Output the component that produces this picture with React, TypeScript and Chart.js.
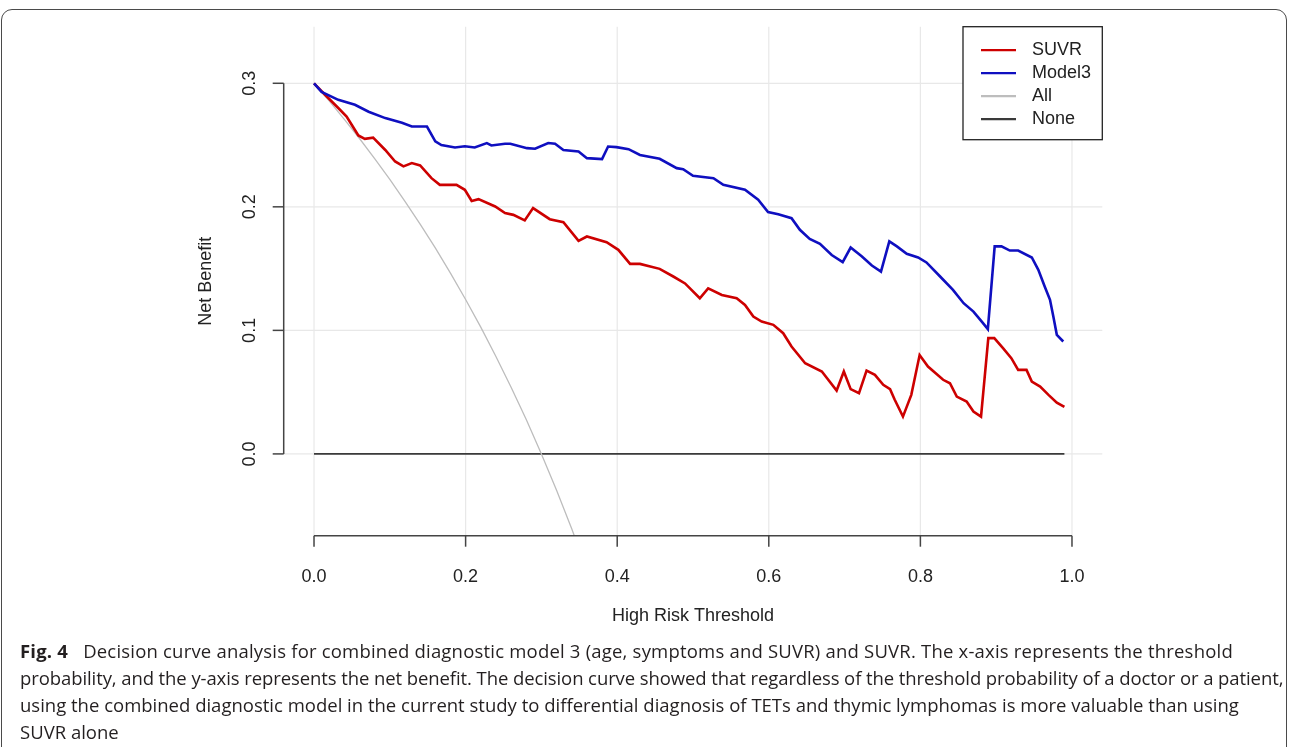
import React, { useEffect, useRef } from "react";
import { Chart, registerables } from "chart.js";

Chart.register(...registerables);

// ---- data ----
const suvrX = [0, 0.0145, 0.032, 0.043, 0.0497, 0.0585, 0.067, 0.078, 0.094, 0.107, 0.118, 0.129, 0.14, 0.155, 0.166, 0.188, 0.199, 0.208, 0.217, 0.239, 0.252, 0.263, 0.278, 0.289, 0.311, 0.329, 0.349, 0.36, 0.386, 0.4015, 0.417, 0.43, 0.456, 0.474, 0.4895, 0.509, 0.52, 0.538, 0.5576, 0.5686, 0.5796, 0.5906, 0.606, 0.619, 0.63, 0.648, 0.67, 0.6895, 0.699, 0.708, 0.719, 0.729, 0.74, 0.751, 0.76, 0.766, 0.777, 0.788, 0.799, 0.81, 0.83, 0.839, 0.848, 0.861, 0.87, 0.88, 0.8896, 0.8975, 0.909, 0.92, 0.929, 0.94, 0.947, 0.958, 0.969, 0.98, 0.99];
const suvrY = [0.3, 0.2907, 0.28, 0.273, 0.2664, 0.2578, 0.255, 0.256, 0.246, 0.2367, 0.2327, 0.2354, 0.2335, 0.2232, 0.2178, 0.2178, 0.2138, 0.2048, 0.2062, 0.2003, 0.1949, 0.1935, 0.189, 0.199, 0.19, 0.1876, 0.1725, 0.176, 0.1714, 0.1652, 0.1538, 0.1538, 0.1498, 0.1436, 0.138, 0.126, 0.134, 0.1287, 0.126, 0.1206, 0.1112, 0.1071, 0.1045, 0.0977, 0.0869, 0.0734, 0.0667, 0.0513, 0.0667, 0.0524, 0.0491, 0.0675, 0.064, 0.0559, 0.0524, 0.044, 0.0302, 0.0478, 0.08, 0.0707, 0.06, 0.0572, 0.0464, 0.0424, 0.0343, 0.0302, 0.0937, 0.0937, 0.0856, 0.0775, 0.068, 0.068, 0.0585, 0.0545, 0.0478, 0.0415, 0.038];

const model3X = [0, 0.01, 0.032, 0.054, 0.072, 0.094, 0.116, 0.129, 0.149, 0.16, 0.168, 0.186, 0.199, 0.212, 0.228, 0.234, 0.252, 0.259, 0.281, 0.2916, 0.309, 0.318, 0.329, 0.349, 0.36, 0.38, 0.388, 0.399, 0.415, 0.43, 0.456, 0.4785, 0.487, 0.5, 0.527, 0.54, 0.5686, 0.586, 0.599, 0.6125, 0.63, 0.641, 0.654, 0.6675, 0.683, 0.6975, 0.708, 0.7225, 0.736, 0.748, 0.759, 0.769, 0.782, 0.797, 0.808, 0.826, 0.843, 0.857, 0.87, 0.881, 0.889, 0.898, 0.907, 0.918, 0.929, 0.947, 0.9556, 0.964, 0.971, 0.9754, 0.98, 0.9885];
const model3Y = [0.3, 0.293, 0.2866, 0.2826, 0.277, 0.2718, 0.268, 0.265, 0.265, 0.253, 0.25, 0.248, 0.249, 0.248, 0.2516, 0.2497, 0.251, 0.251, 0.2475, 0.247, 0.2516, 0.251, 0.246, 0.2448, 0.2394, 0.2386, 0.2488, 0.2483, 0.2467, 0.242, 0.2389, 0.2313, 0.2305, 0.2251, 0.2232, 0.2178, 0.2138, 0.2057, 0.1957, 0.194, 0.1908, 0.1814, 0.174, 0.17, 0.161, 0.1552, 0.167, 0.16, 0.1525, 0.1476, 0.172, 0.168, 0.162, 0.159, 0.155, 0.1436, 0.1328, 0.122, 0.1152, 0.1071, 0.101, 0.168, 0.168, 0.1646, 0.1646, 0.159, 0.149, 0.1355, 0.1247, 0.1112, 0.0964, 0.091];

const allX = [0, 0.02, 0.04, 0.06, 0.08, 0.1, 0.12, 0.14, 0.16, 0.18, 0.2, 0.22, 0.24, 0.26, 0.28, 0.3, 0.32, 0.34, 0.36];
const allY = [0.3, 0.2857, 0.2708, 0.2553, 0.2391, 0.2222, 0.2045, 0.186, 0.1667, 0.1463, 0.125, 0.1026, 0.0789, 0.054, 0.0278, 0, -0.0294, -0.0606, -0.0938];

const noneX = [0, 0.99];
const noneY = [0, 0];

const xTicks = [0, 0.2, 0.4, 0.6, 0.8, 1.0];
const xTickLabels = ["0.0", "0.2", "0.4", "0.6", "0.8", "1.0"];
const yTicks = [0, 0.1, 0.2, 0.3];
const yTickLabels = ["0.0", "0.1", "0.2", "0.3"];

const seriesNames = ["SUVR", "Model3", "All", "None"];
const seriesColors = ["#CD0000", "#0F0FC0", "#BDBDBD", "#3A3A3A"];

const xTitle = "High Risk Threshold";
const yTitle = "Net Benefit";

const W = 1290;
const H = 747;
const FONT = "18px 'Liberation Sans', Arial, sans-serif";

const toPts = (xs: number[], ys: number[]) => xs.map((x, i) => ({ x, y: ys[i] }));

const rPlot = {
  id: "rPlot",
  beforeDatasetsDraw(chart: any) {
    const { ctx, chartArea: a, scales } = chart;
    const xs = scales.x, ys = scales.y;
    ctx.save();
    ctx.strokeStyle = "#E8E8E8";
    ctx.lineWidth = 1.2;
    xTicks.forEach((v) => {
      const px = xs.getPixelForValue(v);
      ctx.beginPath(); ctx.moveTo(px, a.top); ctx.lineTo(px, a.bottom); ctx.stroke();
    });
    yTicks.forEach((v) => {
      const py = ys.getPixelForValue(v);
      ctx.beginPath(); ctx.moveTo(a.left, py); ctx.lineTo(a.right, py); ctx.stroke();
    });
    ctx.restore();
  },
  afterDatasetsDraw(chart: any) {
    const { ctx, chartArea: a, scales } = chart;
    const xs = scales.x, ys = scales.y;
    ctx.save();
    ctx.strokeStyle = "#444";
    ctx.lineWidth = 1.5;
    // x axis
    const x0 = xs.getPixelForValue(xTicks[0]);
    const x1 = xs.getPixelForValue(xTicks[xTicks.length - 1]);
    ctx.beginPath(); ctx.moveTo(x0, a.bottom); ctx.lineTo(x1, a.bottom); ctx.stroke();
    xTicks.forEach((v) => {
      const px = xs.getPixelForValue(v);
      ctx.beginPath(); ctx.moveTo(px, a.bottom); ctx.lineTo(px, a.bottom + 11); ctx.stroke();
    });
    // y axis
    const y0 = ys.getPixelForValue(yTicks[0]);
    const y1 = ys.getPixelForValue(yTicks[yTicks.length - 1]);
    ctx.beginPath(); ctx.moveTo(a.left, y0); ctx.lineTo(a.left, y1); ctx.stroke();
    yTicks.forEach((v) => {
      const py = ys.getPixelForValue(v);
      ctx.beginPath(); ctx.moveTo(a.left, py); ctx.lineTo(a.left - 11, py); ctx.stroke();
    });
    // labels
    ctx.fillStyle = "#222";
    ctx.font = FONT;
    ctx.textAlign = "center";
    ctx.textBaseline = "middle";
    xTicks.forEach((v, i) => {
      ctx.fillText(xTickLabels[i], xs.getPixelForValue(v), a.bottom + 41);
    });
    yTicks.forEach((v, i) => {
      ctx.save();
      ctx.translate(a.left - 34, ys.getPixelForValue(v));
      ctx.rotate(-Math.PI / 2);
      ctx.fillText(yTickLabels[i], 0, 0);
      ctx.restore();
    });
    ctx.fillText(xTitle, (a.left + a.right) / 2, a.bottom + 80);
    ctx.save();
    ctx.translate(a.left - 78, (a.top + a.bottom) / 2);
    ctx.rotate(-Math.PI / 2);
    ctx.fillText(yTitle, 0, 0);
    ctx.restore();

    // legend box (top-right, R style)
    const bx = 963, by = a.top, bw = a.right - 963, bh = 113;
    ctx.fillStyle = "#fff";
    ctx.fillRect(bx, by, bw, bh);
    ctx.strokeStyle = "#222";
    ctx.lineWidth = 1.3;
    ctx.strokeRect(bx, by, bw, bh);
    seriesNames.forEach((name, i) => {
      const ly = by + 23.5 + i * 23;
      ctx.strokeStyle = seriesColors[i];
      ctx.lineWidth = 2.2;
      ctx.beginPath(); ctx.moveTo(981, ly); ctx.lineTo(1016, ly); ctx.stroke();
      ctx.fillStyle = "#222";
      ctx.textAlign = "left";
      ctx.fillText(name, 1032, ly);
    });
    ctx.restore();
  },
};

function App() {
  const ref = useRef<HTMLCanvasElement | null>(null);
  useEffect(() => {
    if (!ref.current) return;
    const chart = new Chart(ref.current, {
      type: "line",
      data: {
        datasets: [
          { label: seriesNames[3], data: toPts(noneX, noneY), borderColor: seriesColors[3], borderWidth: 1.6, order: 3 },
          { label: seriesNames[2], data: toPts(allX, allY), borderColor: seriesColors[2], borderWidth: 1.3, order: 2 },
          { label: seriesNames[0], data: toPts(suvrX, suvrY), borderColor: seriesColors[0], borderWidth: 2.6, order: 1 },
          { label: seriesNames[1], data: toPts(model3X, model3Y), borderColor: seriesColors[1], borderWidth: 2.6, order: 0 },
        ],
      },
      options: {
        responsive: false,
        animation: false,
        devicePixelRatio: 1,
        layout: { padding: { left: 283.7, top: 26.7, right: W - 1102.3, bottom: H - 535.7 } },
        elements: { line: { tension: 0, fill: false }, point: { radius: 0, hoverRadius: 0 } },
        scales: {
          x: { type: "linear", min: -0.04, max: 1.04, display: false },
          y: { type: "linear", min: -0.0662, max: 0.3458, display: false },
        },
        plugins: { legend: { display: false }, tooltip: { enabled: false } },
        events: [],
      },
      plugins: [rPlot],
    });
    return () => chart.destroy();
  }, []);

  const capFont: React.CSSProperties = {
    position: "absolute",
    left: 20,
    top: 637,
    fontFamily: "'Open Sans', 'Noto Sans', sans-serif",
    fontSize: 18.5,
    lineHeight: "27px",
    color: "#231F20",
    whiteSpace: "nowrap",
  };

  return (
    <div style={{ position: "fixed", left: 0, top: 0, width: W, height: H, background: "#fff", overflow: "hidden" }}>
      <div
        style={{
          position: "absolute",
          left: 1,
          top: 9,
          width: W - 4,
          height: 800,
          border: "1.5px solid #4a4a4a",
          borderRadius: 11,
          boxSizing: "border-box",
        }}
      />
      <canvas ref={ref} width={W} height={H} style={{ position: "absolute", left: 0, top: 0, width: W, height: H }} />
      <div style={capFont}>
        <span style={{ letterSpacing: "0.2px" }}>
          <b>Fig. 4</b>&nbsp;&nbsp; Decision curve analysis for combined diagnostic model 3 (age, symptoms and SUVR) and SUVR. The x-axis represents the threshold
        </span>
        <br />
        <span style={{ letterSpacing: "-0.09px" }}>
          probability, and the y-axis represents the net benefit. The decision curve showed that regardless of the threshold probability of a doctor or a patient,
        </span>
        <br />
        <span>
          using the combined diagnostic model in the current study to differential diagnosis of TETs and thymic lymphomas is more valuable than using
        </span>
        <br />
        <span>SUVR alone</span>
      </div>
    </div>
  );
}

export default App;
